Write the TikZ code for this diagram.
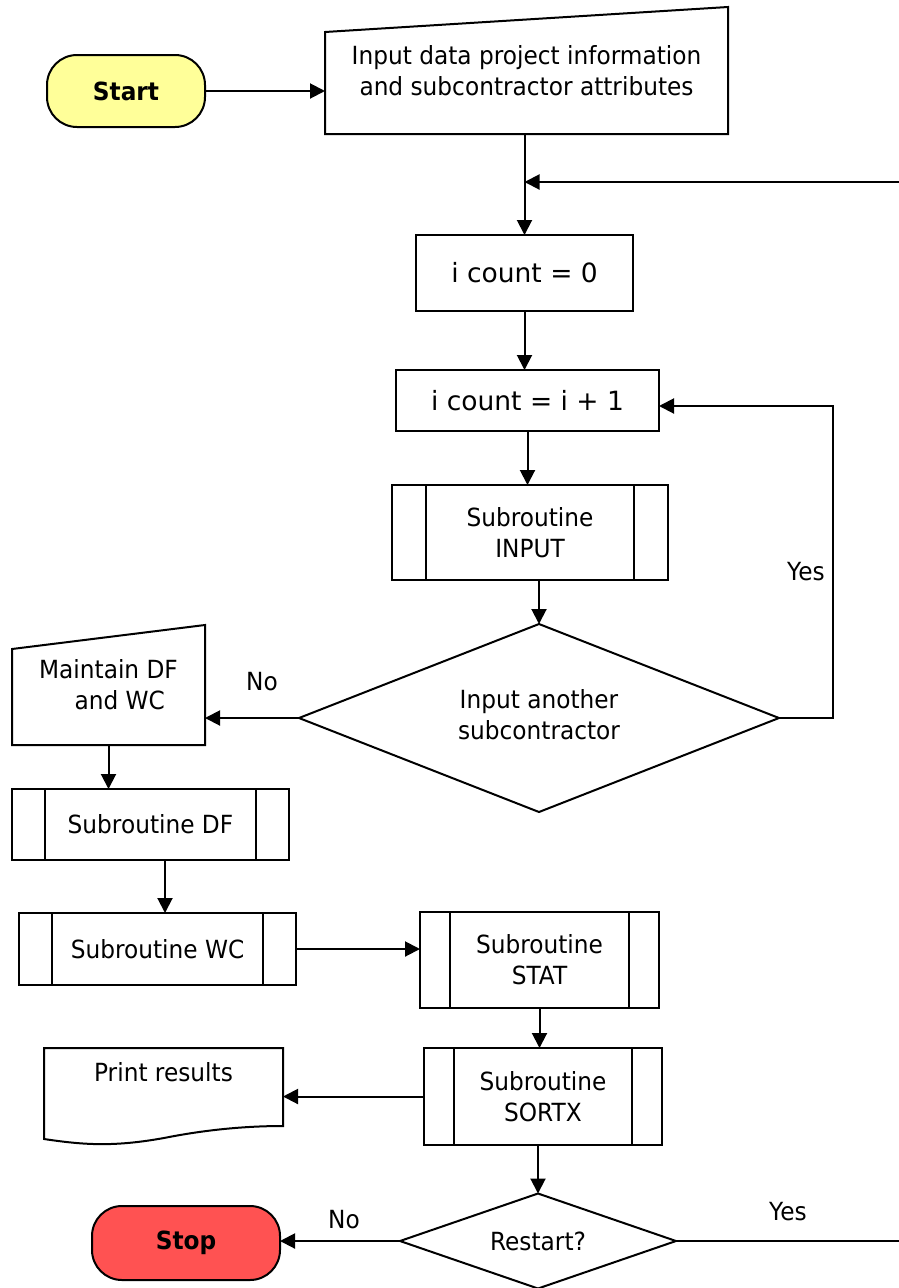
\documentclass[tikz,border=0pt]{standalone}
\usepackage{fontspec}
\setmainfont{DejaVu Sans}[FakeStretch=0.93]
\newfontfamily\widefont{DejaVu Sans}
\usetikzlibrary{shapes.geometric,arrows.meta}
\begin{document}
\begin{tikzpicture}[x=1pt,y=-1pt,
  every node/.style={font=\fontsize{25}{31}\selectfont},
  box/.style={draw, line width=2pt, inner sep=0pt, outer sep=0pt, align=center},
  plain/.style={inner sep=0pt, outer sep=0pt, align=center},
  terminal/.style={box, rounded corners=30pt, font=\fontsize{25}{31}\selectfont\bfseries},
  counter/.style={box, font=\widefont\fontsize{26.5}{31}\selectfont},
  subr/.style={box, path picture={
      \draw[line width=2pt]
        ([xshift=#1]path picture bounding box.north west) -- ([xshift=#1]path picture bounding box.south west)
        ([xshift=-#1]path picture bounding box.north east) -- ([xshift=-#1]path picture bounding box.south east);}},
  decision/.style={box, diamond},
  outline/.style={draw, line width=2pt, line join=miter},
  flow/.style={line width=2pt, -{Triangle[length=15pt,width=15pt]}},
  wire/.style={line width=2pt}
]
\fill[white] (0,0) rectangle (899,1288);
\useasboundingbox (0,0) rectangle (899,1288);

% terminals
\node[terminal, fill={rgb,255:red,255;green,255;blue,153}, minimum width=158pt, minimum height=72pt] (start) at (126,91) {Start};
\node[terminal, fill={rgb,255:red,255;green,82;blue,82}, minimum width=188pt, minimum height=74pt] (stop) at (186,1243) {\raisebox{-3pt}{Stop}};

% manual input: project data
\node[plain, minimum width=403pt, minimum height=127pt] (inp) at (526.5,70.5) {Input data project information\\and subcontractor attributes};
\draw[outline] (inp.south west) -- ([yshift=-25pt]inp.north west) -- (inp.north east) -- (inp.south east) -- cycle;

% counters
\node[counter, minimum width=217pt, minimum height=76pt] (i0) at (524.5,273) {i count = 0};
\node[counter, minimum width=263pt, minimum height=61pt] (i1) at (527.5,400.5) {i count = i + 1};

% subroutines
\node[subr=34pt, minimum width=276pt, minimum height=95pt] (sin) at (530,532.5) {Subroutine\\INPUT};
\node[subr=33pt, minimum width=277pt, minimum height=71pt] (sdf) at (150.5,824.5) {Subroutine DF};
\node[subr=33pt, minimum width=277pt, minimum height=72pt] (swc) at (157.5,949) {Subroutine WC};
\node[subr=30pt, minimum width=239pt, minimum height=96pt] (stat) at (539.5,960) {Subroutine\\STAT};
\node[subr=30pt, minimum width=238pt, minimum height=97pt] (sortx) at (543,1096.5) {Subroutine\\SORTX};

% decisions
\node[decision, aspect=2.55, minimum width=480pt, minimum height=188pt] (dia) at (539,718) {\raisebox{7pt}{\begin{tabular}{@{}c@{}}Input another\\subcontractor\end{tabular}}};
\node[decision, aspect=2.9, minimum width=276pt, minimum height=95pt] (rst) at (538,1241) {Restart?};

% manual input: maintain DF and WC
\node[plain, minimum width=193pt, minimum height=120pt] (mdf) at (108.5,685) {Maintain DF\\\hspace{0.9em}and WC};
\draw[outline] (mdf.south west) -- ([yshift=-24pt]mdf.north west) -- (mdf.north east) -- (mdf.south east) -- cycle;

% document: print results
\node[plain, minimum width=239pt, minimum height=78pt, text depth=30pt] (print) at (163.5,1087) {Print results};
\draw[outline] (print.north west) -- ([yshift=-13pt]print.south west)
  .. controls ([xshift=40pt,yshift=-19pt]print.south west) and ([xshift=70pt,yshift=-21pt]print.south west)
  .. ([xshift=120pt,yshift=-12pt]print.south west)
  .. controls ([xshift=160pt,yshift=-4pt]print.south west) and ([xshift=200pt,yshift=0pt]print.south west)
  .. (print.south east) -- (print.north east) -- cycle;

% free ends of the return lines
\coordinate (rin) at (899,182);
\coordinate (rout) at (899,1241);
\coordinate (ycorner) at (833,406);

% connectors
\draw[flow] (start.east) -- (start.east -| inp.west);
\draw[flow] (i0.north |- inp.south) -- (i0.north);
\draw[flow] (rin) -- (rin -| i0.north);
\draw[flow] (i0.south) -- (i0.south |- i1.north);
\draw[flow] (i1.south) -- (i1.south |- sin.north);
\draw[flow] (sin.south -| dia.north) -- (dia.north);
\draw[flow] (dia.east) -| (ycorner) -- (ycorner -| i1.east);
\draw[flow] (dia.west) -- (dia.west -| mdf.east);
\draw[flow] (mdf.south) -- (mdf.south |- sdf.north);
\draw[flow] ([xshift=14.5pt]sdf.south) -- ([xshift=14.5pt]sdf.south |- swc.north);
\draw[flow] (swc.east) -- (swc.east -| stat.west);
\draw[flow] (stat.south) -- (stat.south |- sortx.north);
\draw[flow] (sortx.west) -- (sortx.west -| print.east);
\draw[flow] (sortx.south -| rst.north) -- (rst.north);
\draw[flow] (rst.west) -- (rst.west -| stop.east);
\draw[wire] (rst.east) -- (rout);

% branch labels
\node[plain] (yes1) at (806,572) {Yes};
\node[plain] (no1) at (262,682) {No};
\node[plain] (yes2) at (788,1212) {Yes};
\node[plain] (no2) at (344,1220) {No};
\end{tikzpicture}
\end{document}
